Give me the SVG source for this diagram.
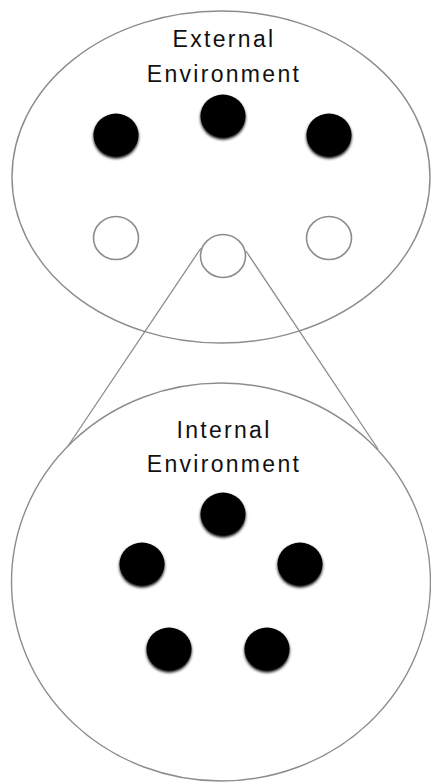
<svg xmlns="http://www.w3.org/2000/svg" width="431" height="782" viewBox="0 0 431 782">
  <defs>
    <style>
      .outline { fill: #ffffff; stroke: #8c8c8c; stroke-width: 1.4; }
      .hollow { fill: #ffffff; stroke: #8c8c8c; stroke-width: 1.6; }
      .dot { fill: #000000; filter: url(#soft); }
      .conn { fill: none; stroke: #8c8c8c; stroke-width: 1.3; }
      .label { font-family: "Liberation Sans", Arial, sans-serif; font-size: 23px; letter-spacing: 2.3px; fill: #111111; text-anchor: middle; }
    </style>
    <filter id="soft" x="-30%" y="-30%" width="160%" height="170%">
      <feGaussianBlur in="SourceAlpha" stdDeviation="1.6" result="b"/>
      <feOffset in="b" dx="-0.5" dy="1.5" result="o"/>
      <feMerge>
        <feMergeNode in="o"/>
        <feMergeNode in="SourceGraphic"/>
      </feMerge>
    </filter>
  </defs>
  <rect width="431" height="782" fill="#ffffff"/>

  <g id="external-environment">
    <ellipse class="outline" cx="221" cy="177" rx="209" ry="166"/>
    <text class="label" x="224" y="47">External</text>
    <text class="label" x="224" y="82">Environment</text>
    <ellipse class="dot" cx="116" cy="135" rx="22.5" ry="21.5"/>
    <ellipse class="dot" cx="223" cy="116" rx="22.5" ry="21.5"/>
    <ellipse class="dot" cx="329" cy="135" rx="22.5" ry="21.5"/>
    <ellipse class="hollow" cx="116" cy="238" rx="22.5" ry="21.5"/>
    <ellipse class="hollow" cx="329" cy="238" rx="22.5" ry="21.5"/>
  </g>

  <g id="connectors">
    <line class="conn" x1="201" y1="248" x2="66" y2="449"/>
    <line class="conn" x1="246" y1="251" x2="378" y2="449"/>
  </g>

  <g id="zoom-source">
    <ellipse class="hollow" cx="223" cy="256" rx="22.5" ry="21.5"/>
  </g>

  <g id="internal-environment">
    <ellipse class="outline" cx="221" cy="582" rx="209.5" ry="199"/>
    <text class="label" x="224" y="438">Internal</text>
    <text class="label" x="224" y="472">Environment</text>
    <ellipse class="dot" cx="223" cy="514" rx="22.5" ry="21.5"/>
    <ellipse class="dot" cx="142" cy="564" rx="22.5" ry="21.5"/>
    <ellipse class="dot" cx="300" cy="564" rx="22.5" ry="21.5"/>
    <ellipse class="dot" cx="169" cy="649" rx="22.5" ry="21.5"/>
    <ellipse class="dot" cx="267" cy="649" rx="22.5" ry="21.5"/>
  </g>
</svg>
